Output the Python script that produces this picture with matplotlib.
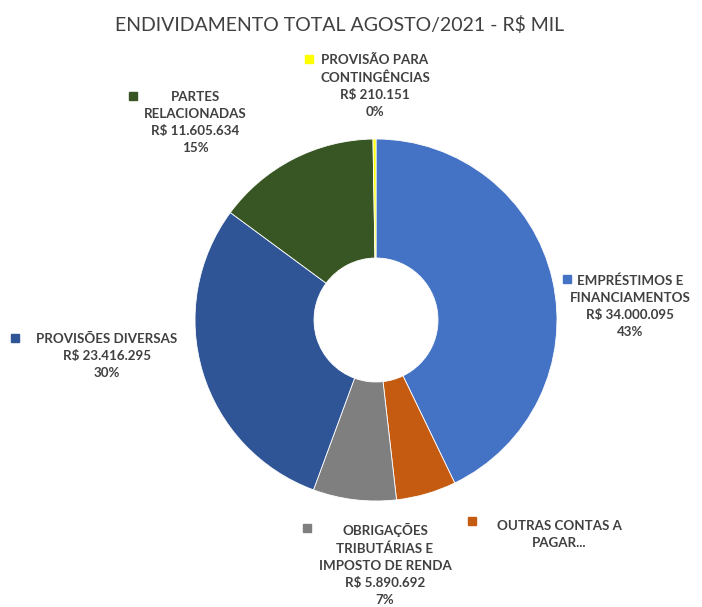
import matplotlib.pyplot as plt
from matplotlib.patches import Rectangle

plt.rcParams['font.family'] = ['Lato', 'DejaVu Sans']
plt.rcParams['text.parse_math'] = False

# dados (R$ mil)
categorias = ['EMPRÉSTIMOS E\nFINANCIAMENTOS', 'OUTRAS CONTAS A\nPAGAR...',
              'OBRIGAÇÕES\nTRIBUTÁRIAS E\nIMPOSTO DE RENDA', 'PROVISÕES DIVERSAS',
              'PARTES\nRELACIONADAS', 'PROVISÃO PARA\nCONTINGÊNCIAS']
valores = [34000095, 4250000, 5890692, 23416295, 11605634, 210151]
mostra_valor = [True, False, True, True, True, True]
cores = ['#4472C4', '#C55A11', '#7F7F7F', '#2F5597', '#375623', '#FFFF00']

W, H = 702, 607
fig = plt.figure(figsize=(W / 100, H / 100), dpi=100)

# rosca
cx, cy, r, r_in = 376, 320, 181, 62
ax = fig.add_axes([(cx - r) / W, (H - cy - r) / H, 2 * r / W, 2 * r / H])
ax.pie(valores, colors=cores, startangle=90, counterclock=False, radius=1,
       wedgeprops=dict(width=1 - r_in / r, edgecolor='white', linewidth=0.6))
ax.set_xlim(-1, 1)
ax.set_ylim(-1, 1)
ax.set_aspect('equal')
ax.axis('off')

fig.text(340 / W, 1 - 25 / H, 'ENDIVIDAMENTO TOTAL AGOSTO/2021 - R$ MIL',
         ha='center', va='center', fontsize=14, color='#404040')

# posicao dos rotulos: (centro x do texto, y da primeira linha, x do marcador, y do marcador)
pos = [(630, 280, 567, 279), (559, 526, 472, 521), (385, 529, 307, 528),
       (107, 339, 15, 338), (195, 97, 133, 96), (375, 60, 309, 59)]

total = sum(valores)
for cat, v, mv, c, (tx, ty, mx, my) in zip(categorias, valores, mostra_valor, cores, pos):
    if mv:
        txt = cat + '\nR$ ' + f'{v:,}'.replace(',', '.') + f'\n{round(100 * v / total)}%'
    else:
        txt = cat
    fig.text(tx / W, 1 - (ty - 6) / H, txt, ha='center', va='top', fontsize=9.6,
             fontweight='bold', color='#404040', linespacing=1.5)
    fig.patches.append(Rectangle(((mx - 4) / W, 1 - (my + 4) / H), 8 / W, 8 / H,
                                 transform=fig.transFigure, color=c))

fig.savefig('out.png', dpi=100)
